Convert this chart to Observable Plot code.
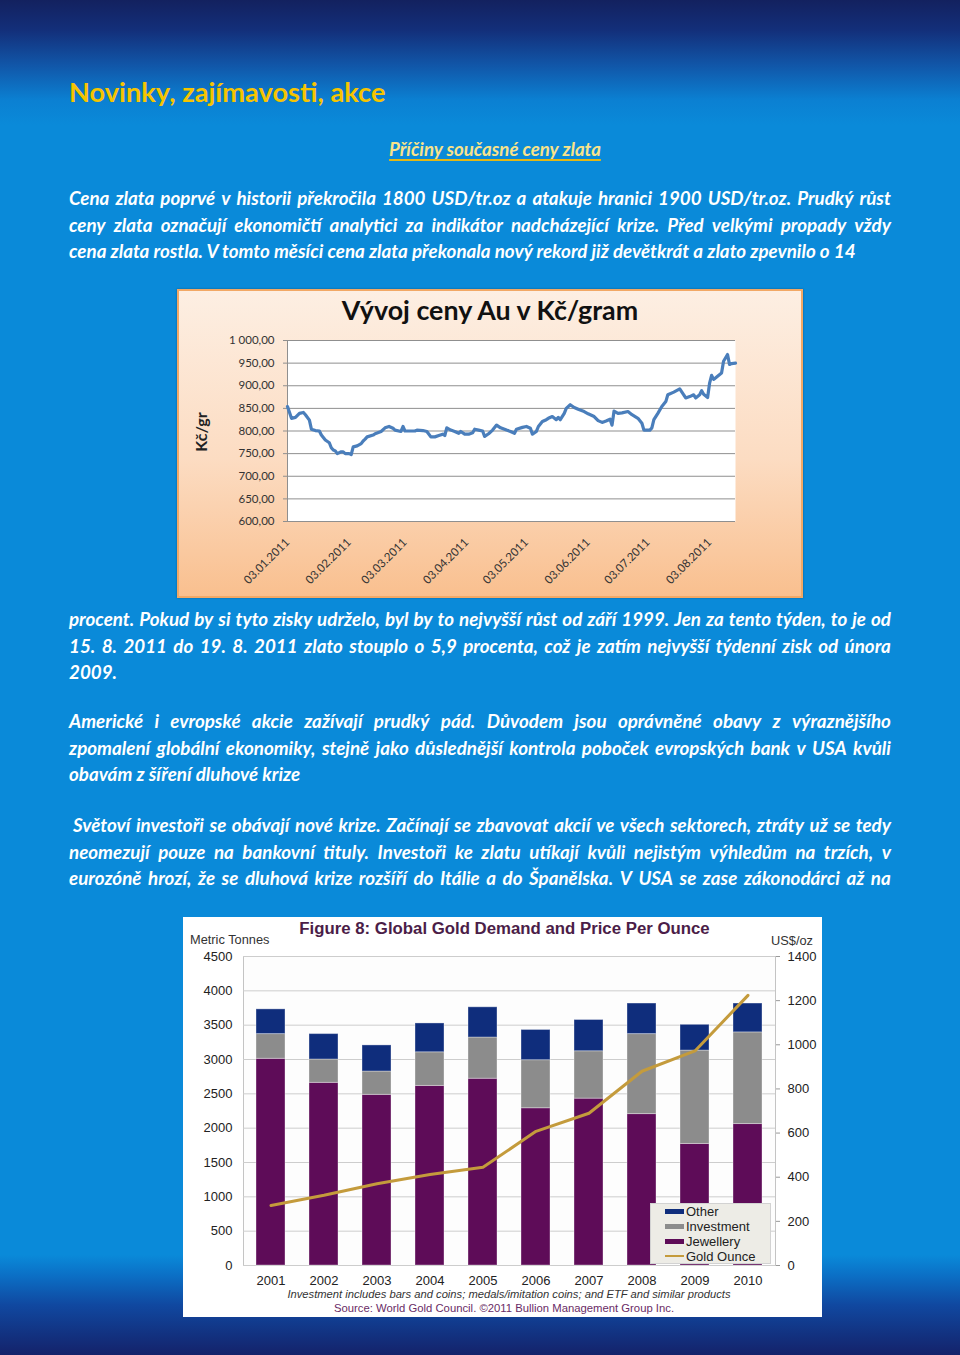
<!DOCTYPE html>
<html><head><meta charset="utf-8">
<script src="https://cdn.jsdelivr.net/npm/d3@7"></script>
<script src="https://cdn.jsdelivr.net/npm/@observablehq/plot@0.6"></script>
<style>
html,body{margin:0;padding:0;}
body{width:960px;height:1355px;position:relative;overflow:hidden;font-family:Lato,"Open Sans",sans-serif;
background:linear-gradient(to bottom,#13215f 0px,#132f7a 30px,#1156a8 65px,#0b80d2 100px,#0a8ad9 125px,#0a8ad9 1255px,#0b70c6 1275px,#1048a0 1305px,#14226a 1355px);}
.abs{position:absolute;}
#heading{left:69px;top:75px;font-weight:700;font-size:27.2px;color:#f6c400;line-height:34px;}
#sub{left:0;width:990px;top:136px;text-align:center;font-style:italic;font-weight:700;font-size:18.6px;color:#f8e38a;line-height:26px;}
#sub span{text-decoration:underline;text-decoration-color:#e3b716;text-decoration-thickness:2px;text-underline-offset:3px;}
.para{left:69px;width:822px;color:#fff;font-style:italic;font-weight:700;font-size:18.8px;line-height:26.5px;}
.ln{height:26.5px;white-space:nowrap;}
.ln.j{display:flex;justify-content:space-between;}
.ln.j span{flex:none;}
#box1{left:177px;top:289px;width:626px;height:309px;background:linear-gradient(to bottom,#fdefe3 0%,#fcdcc2 55%,#f9bf8e 100%);box-shadow:inset 0 0 0 2px #f2a865, 0 0 2px rgba(0,0,0,0.3);}
#box1 svg{position:absolute;left:0;top:0;}
#title1{position:absolute;left:0;width:626px;top:294px;text-align:center;font-weight:700;font-size:26.8px;color:#111;}
#ylab1{position:absolute;transform:translate(-50%,-50%) rotate(-90deg);font-weight:700;font-size:16px;color:#222;white-space:nowrap;}
#box2{left:183px;top:917px;width:639px;height:400px;background:#fff;font-family:Arial,"Liberation Sans",sans-serif;}
#box2 svg{position:absolute;left:0;top:0;}
.t2{position:absolute;white-space:nowrap;}
#legend{position:absolute;left:467px;top:286px;width:121px;height:61px;background:#edece6;border:1px solid #d2d2d2;box-sizing:border-box;font-size:13px;color:#222;}
.lg{position:absolute;left:14px;height:15px;line-height:15px;}
.sw{display:inline-block;width:19px;height:5px;vertical-align:middle;margin-right:2px;position:relative;top:-1px;}
</style></head>
<body>
<div id="heading" class="abs">Novinky, zajímavosti, akce</div>
<div id="sub" class="abs"><span>Příčiny současné ceny zlata</span></div>
<div id="p1" class="abs para" style="top:185px"></div>
<div id="p2" class="abs para" style="top:606px"></div>
<div id="p3" class="abs para" style="top:708px"></div>
<div id="p4" class="abs para" style="top:812px"></div>
<div id="box1" class="abs"></div>
<div id="box2" class="abs"></div>
<script>
// ---------- Text ----------
const para1Lines = [
  "Cena zlata poprvé v historii překročila 1800 USD/tr.oz a atakuje hranici 1900 USD/tr.oz. Prudký růst",
  "ceny zlata označují ekonomičtí analytici za indikátor nadcházející krize. Před velkými propady vždy",
  "cena zlata rostla. V tomto měsíci cena zlata překonala nový rekord již devětkrát a zlato zpevnilo o 14"
];
const para2Lines = [
  "procent. Pokud by si tyto zisky udrželo, byl by to nejvyšší růst od září 1999. Jen za tento týden, to je od",
  "15. 8. 2011 do 19. 8. 2011 zlato stouplo o 5,9 procenta, což je zatím nejvyšší týdenní zisk od února",
  "2009."
];
const para3Lines = [
  "Americké i evropské akcie zažívají prudký pád. Důvodem jsou oprávněné obavy z výraznějšího",
  "zpomalení globální ekonomiky, stejně jako důslednější kontrola poboček evropských bank v USA kvůli",
  "obavám z šíření dluhové krize"
];
const para4Lines = [
  "Světoví investoři se obávají nové krize. Začínají se zbavovat akcií ve všech sektorech, ztráty už se tedy",
  "neomezují pouze na bankovní tituly. Investoři ke zlatu utíkají kvůli nejistým výhledům na trzích, v",
  "eurozóně hrozí, že se dluhová krize rozšíří do Itálie a do Španělska. V USA se zase zákonodárci až na"
];

// ---------- Chart 1: Vývoj ceny Au v Kč/gram ----------
const chart1Title = "Vývoj ceny Au v Kč/gram";
const chart1YLabel = "Kč/gr";
const priceDates = [
 "2011-01-03","2011-01-05","2011-01-07","2011-01-09","2011-01-11","2011-01-12","2011-01-14","2011-01-15","2011-01-17","2011-01-19",
 "2011-01-20","2011-01-22","2011-01-24","2011-01-25","2011-01-26","2011-01-27","2011-01-28","2011-01-30","2011-01-31","2011-02-01",
 "2011-02-03","2011-02-04","2011-02-05","2011-02-07","2011-02-09","2011-02-10","2011-02-11","2011-02-12","2011-02-15","2011-02-16",
 "2011-02-19","2011-02-21","2011-02-23","2011-02-25","2011-02-26","2011-03-01","2011-03-02","2011-03-03","2011-03-05","2011-03-08",
 "2011-03-09","2011-03-12","2011-03-14","2011-03-16","2011-03-18","2011-03-20","2011-03-22","2011-03-23","2011-03-24","2011-03-26",
 "2011-03-28","2011-03-30","2011-03-31","2011-04-02","2011-04-04","2011-04-06","2011-04-07","2011-04-09","2011-04-11","2011-04-12",
 "2011-04-14","2011-04-16","2011-04-18","2011-04-20","2011-04-23","2011-04-25","2011-04-27","2011-04-28","2011-05-01","2011-05-03",
 "2011-05-05","2011-05-06","2011-05-08","2011-05-09","2011-05-11","2011-05-13","2011-05-14","2011-05-16","2011-05-18","2011-05-19",
 "2011-05-20","2011-05-22","2011-05-23","2011-05-25","2011-05-27","2011-05-29","2011-06-01","2011-06-03","2011-06-06","2011-06-08",
 "2011-06-10","2011-06-12","2011-06-14","2011-06-15","2011-06-16","2011-06-18","2011-06-20","2011-06-23","2011-06-25","2011-06-28",
 "2011-06-30","2011-07-01","2011-07-04","2011-07-05","2011-07-06","2011-07-08","2011-07-10","2011-07-12","2011-07-13","2011-07-16",
 "2011-07-19","2011-07-21","2011-07-22","2011-07-24","2011-07-26","2011-07-27","2011-07-29","2011-07-30","2011-07-31","2011-08-02",
 "2011-08-03","2011-08-04","2011-08-05","2011-08-07","2011-08-09","2011-08-10","2011-08-12","2011-08-13","2011-08-14","2011-08-16"
];
const priceValues = [
 854,828,830,839,841,836,824,804,801,800,
 791,780,774,763,758,756,750,754,754,750,
 750,748,765,767,772,778,782,787,791,794,
 799,807,810,806,802,799,810,800,800,800,
 802,801,799,787,787,790,793,790,807,802,
 799,795,799,793,793,796,804,802,800,788,
 794,802,813,807,802,799,795,804,808,810,
 806,793,799,810,821,825,828,832,825,830,
 825,839,850,858,852,848,843,838,832,823,
 819,822,826,813,844,839,840,843,836,828,
 817,802,802,807,825,839,854,865,880,886,
 893,880,873,876,880,873,880,889,881,874,
 906,923,914,921,928,954,969,947,949,950
];
const chart1YTicks = [600,650,700,750,800,850,900,950,1000];
const chart1XTickLabels = ["03.01.2011","03.02.2011","03.03.2011","03.04.2011","03.05.2011","03.06.2011","03.07.2011","03.08.2011"];

// ---------- Chart 2: Global Gold Demand and Price Per Ounce ----------
const chart2Title = "Figure 8: Global Gold Demand and Price Per Ounce";
const chart2LeftLabel = "Metric Tonnes";
const chart2RightLabel = "US$/oz";
const chart2Note = "Investment includes bars and coins; medals/imitation coins; and ETF and similar products";
const chart2Source = "Source: World Gold Council.  ©2011 Bullion Management Group Inc.";
const years = ["2001","2002","2003","2004","2005","2006","2007","2008","2009","2010"];
const seriesNames = ["Jewellery","Investment","Other"];
const jewellery = [3010,2660,2485,2615,2720,2290,2430,2205,1770,2060];
const investment = [360,340,340,490,600,700,690,1165,1360,1335];
const other = [360,370,380,420,440,440,455,445,375,420];
const goldOunce = [272,318,370,412,445,608,690,880,972,1224];
const tonneTicks = [0,500,1000,1500,2000,2500,3000,3500,4000,4500];
const usdTicks = [0,200,400,600,800,1000,1200,1400];
const legendNames = ["Other","Investment","Jewellery","Gold Ounce"];

// ---------- Build text ----------
function fillPara(id, lines, justifyCount, indent){
  const el = document.getElementById(id);
  lines.forEach((t,i)=>{
    const d = document.createElement("div");
    d.className = "ln" + (i < justifyCount ? " j" : "");
    if (i===0 && indent) d.style.paddingLeft = indent + "px";
    if (i < justifyCount) {
      t.split(" ").forEach(w=>{const s=document.createElement("span"); s.textContent=w; d.appendChild(s);});
    } else d.textContent = t;
    el.appendChild(d);
  });
}
fillPara("p1", para1Lines, 2);
fillPara("p2", para2Lines, 2);
fillPara("p3", para3Lines, 2);
fillPara("p4", para4Lines, 3, 4);

// ---------- Chart 1 ----------
const czFormat = d3.formatLocale({decimal:",", thousands:"\u00a0", grouping:[3], currency:["",""]}).format(",.2f");
const parseISO = d3.utcParse("%Y-%m-%d");
const parseCz = d3.utcParse("%d.%m.%Y");
const priceData = priceDates.map((d,i)=>({date: parseISO(d), value: priceValues[i]}));
const tickDates = chart1XTickLabels.map(parseCz);
const x0 = priceData[0].date, x1 = priceData[priceData.length-1].date;
const c1 = Plot.plot({
  width: 626, height: 309,
  marginLeft: 110, marginRight: 68, marginTop: 51, marginBottom: 77,
  style: {background: "transparent", fontFamily: "Lato, sans-serif", fontSize: "11.5px", color: "#333", overflow: "visible"},
  x: {type: "utc", domain: [x0, x1]},
  y: {domain: [600, 1000]},
  marks: [
    Plot.frame({fill: "white", stroke: null}),
    Plot.gridY(chart1YTicks, {stroke: "#8f8f8f", strokeOpacity: 1}),
    Plot.ruleX([x0], {stroke: "#8f8f8f"}),
    Plot.axisY(chart1YTicks, {tickSize: 4, tickPadding: 9, tickFormat: czFormat, stroke: "#8f8f8f", label: null}),
    Plot.axisX(tickDates, {tickRotate: -45, tickSize: 0, tickPadding: 19, tickFormat: d3.utcFormat("%d.%m.%Y"), label: null}),
    Plot.line(priceData, {x: "date", y: "value", stroke: "#4a7ebb", strokeWidth: 3.2, strokeLinejoin: "round"})
  ]
});
const box1 = document.getElementById("box1");
box1.appendChild(c1);
const t1 = document.createElement("div"); t1.id="title1"; t1.textContent = chart1Title; t1.style.top = "5px"; box1.appendChild(t1);
const y1l = document.createElement("div"); y1l.id="ylab1"; y1l.textContent = chart1YLabel; y1l.style.left="23px"; y1l.style.top="143px"; box1.appendChild(y1l);

// ---------- Chart 2 ----------
const k = 4500/1400;
const demand = [];
years.forEach((y,i)=>{
  demand.push({year:y, type:"Jewellery", value: jewellery[i]});
  demand.push({year:y, type:"Investment", value: investment[i]});
  demand.push({year:y, type:"Other", value: other[i]});
});
const gold = years.map((y,i)=>({year:y, price: goldOunce[i]}));
const palette = ["#5e0c58","#8c8c8c","#0f2d7c"];
const goldColor = "#c49b3c";
const c2 = Plot.plot({
  width: 639, height: 400,
  marginLeft: 60, marginRight: 47, marginTop: 39, marginBottom: 52,
  style: {background: "transparent", fontFamily: "Arial, 'Liberation Sans', sans-serif", fontSize: "13px", color: "#222"},
  x: {domain: years, paddingInner: 0.45, paddingOuter: 0.225},
  y: {domain: [0, 4500]},
  color: {domain: seriesNames, range: palette},
  marks: [
    Plot.frame({fill: "#fdfdfd", stroke: "#c4c4c4"}),
    Plot.gridY(tonneTicks, {stroke: "#cdcdcd", strokeOpacity: 1}),
    Plot.barY(demand, {x: "year", y: "value", fill: "type", order: seriesNames, stroke: "#ffffff", strokeOpacity: 0.35, strokeWidth: 1}),
    Plot.line(gold, {x: "year", y: d => d.price * k, stroke: goldColor, strokeWidth: 3}),
    Plot.axisY(tonneTicks, {tickSize: 0, tickPadding: 11, tickFormat: d => String(d), label: null}),
    Plot.axisY(usdTicks.map(v => v * k), {anchor: "right", tickSize: 4, tickPadding: 8, stroke: "#999", tickFormat: d => String(Math.round(d / k)), label: null}),
    Plot.axisX({tickSize: 0, tickPadding: 10, label: null})
  ]
});
const box2 = document.getElementById("box2");
box2.appendChild(c2);
function addText(parent, txt, css){ const d=document.createElement("div"); d.className="t2"; d.textContent=txt; Object.assign(d.style, css); parent.appendChild(d); return d; }
addText(box2, chart2Title, {left:"0", width:"643px", textAlign:"center", top:"2px", fontWeight:"700", fontSize:"16.8px", color:"#4b1d48"});
addText(box2, chart2LeftLabel, {left:"7px", top:"15px", fontSize:"12.8px", color:"#333"});
addText(box2, chart2RightLabel, {right:"9px", top:"16px", fontSize:"12.8px", color:"#333"});
addText(box2, chart2Note, {left:"9px", width:"634px", textAlign:"center", top:"371px", fontStyle:"italic", fontSize:"11.2px", color:"#333"});
addText(box2, chart2Source, {left:"4px", width:"634px", textAlign:"center", top:"385px", fontSize:"11.3px", color:"#6a2c66"});
const lg = document.createElement("div"); lg.id="legend"; box2.appendChild(lg);
const legendColors = [palette[2], palette[1], palette[0], goldColor];
legendNames.forEach((n,i)=>{
  const r = document.createElement("div"); r.className="lg"; r.style.top = (0 + i*15) + "px";
  const sw = document.createElement("span"); sw.className="sw"; sw.style.background = legendColors[i];
  if (i===3) { sw.style.height="2px"; sw.style.top="-2px"; }
  r.appendChild(sw); r.appendChild(document.createTextNode(n)); lg.appendChild(r);
});
</script>
</body></html>
